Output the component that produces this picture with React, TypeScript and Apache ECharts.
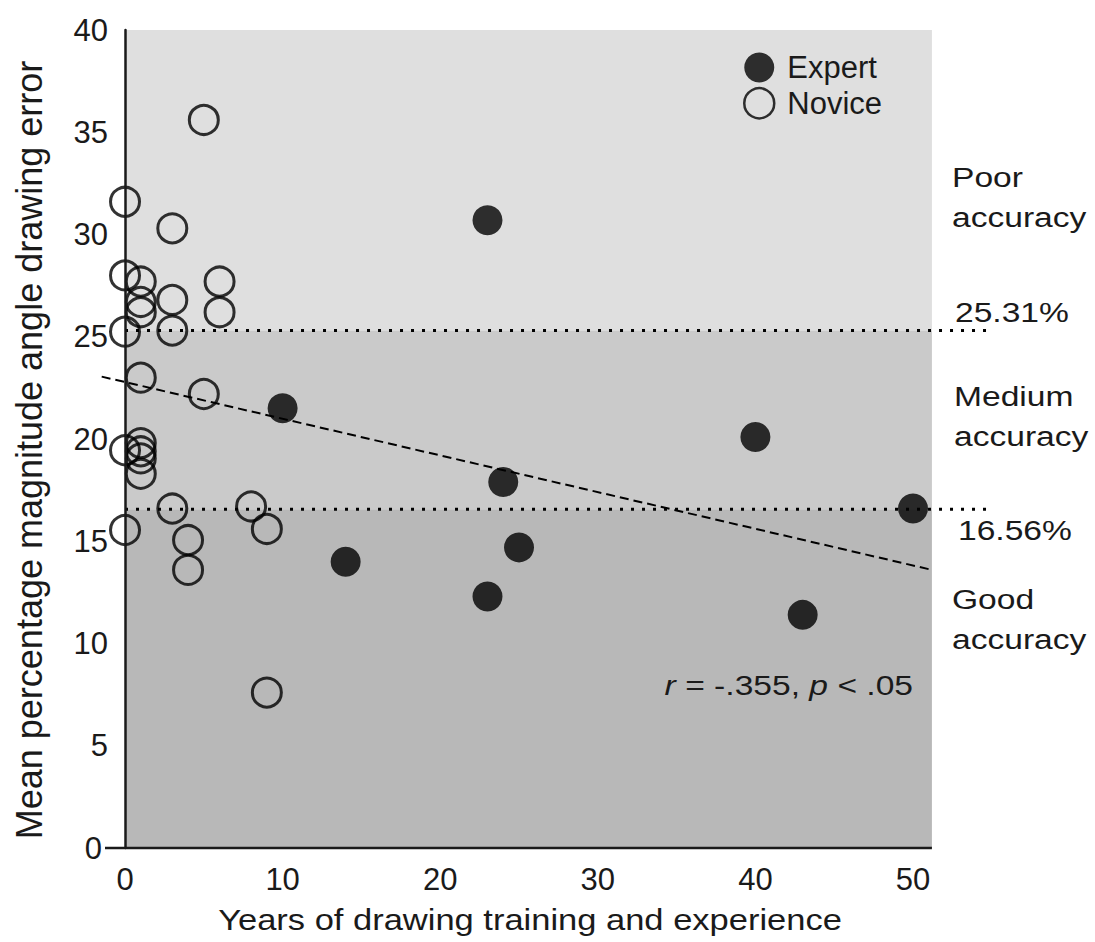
import React, { useEffect, useRef } from "react";
import * as echarts from "echarts";

// ---- Data ----
const X_MIN = -1.6;
const X_MAX = 55;
const X_TICK_VALUES = [0, 10, 20, 30, 40, 50];
const Y_MIN = 0;
const Y_MAX = 40;
const Y_INTERVAL = 5;

const EXPERT_X = [10, 14, 23, 23, 24, 25, 40, 43, 50];
const EXPERT_Y = [21.5, 14.0, 30.7, 12.3, 17.9, 14.7, 20.1, 11.4, 16.6];

const NOVICE_X = [5, 0, 3, 0, 1, 6, 1, 3, 1, 6, 3, 0, 1, 5, 1, 1, 1, 1, 0, 3, 0, 4, 4, 8, 9, 9];
const NOVICE_Y = [
  35.6, 31.6, 30.3, 28.0, 27.7, 27.7, 26.7, 26.8, 26.2, 26.2, 25.3, 25.25, 23.0, 22.2,
  19.8, 19.4, 19.05, 18.3, 19.45, 16.6, 15.55, 15.06, 13.6, 16.7, 15.6, 7.6,
];

const POOR_CUTOFF = 25.31;
const GOOD_CUTOFF = 16.56;
const CUTOFF_LINE_X = [0, 55];
const BAND_X = [0, 51.2];
const AXIS_LINE_X = [-1.27, 51.2];
const REG_LINE = [
  [-1.48, 23.05],
  [51.2, 13.6],
];
const STAT_TEXT = { r: "-.355", p: ".05" };

const FONT = '"Liberation Sans", Arial, sans-serif';
const INK = "#1a1a1a";
const WIDE = 1.2; // the reference's lettering is drawn horizontally stretched

export default function App() {
  const ref = useRef<HTMLDivElement>(null);

  useEffect(() => {
    if (!ref.current) return;
    const chart = echarts.init(ref.current, undefined, { renderer: "svg" });

    const expertData = EXPERT_X.map((x, i) => [x, EXPERT_Y[i]]);
    const noviceData = NOVICE_X.map((x, i) => [x, NOVICE_Y[i]]);

    const sideText = (text: string, x: number, y: number, extra: any = {}) => ({
      type: "text",
      x,
      y,
      scaleX: WIDE,
      z: 10,
      style: {
        text,
        fontSize: 28,
        lineHeight: 39,
        fontFamily: FONT,
        fill: INK,
        textAlign: "left",
        textVerticalAlign: "top",
        ...extra,
      },
    });

    const option: any = {
      animation: false,
      backgroundColor: "#ffffff",
      grid: { left: 99.8, width: 892, top: 30, height: 818 },
      xAxis: {
        type: "value",
        min: X_MIN,
        max: X_MAX,
        splitNumber: 5,
        axisLine: { show: false },
        axisTick: { show: false },
        splitLine: { show: false },
        axisLabel: {
          show: true,
          fontSize: 31,
          color: INK,
          fontFamily: FONT,
          margin: 16,
          showMinLabel: false,
          showMaxLabel: false,
          formatter: (v: number) => (X_TICK_VALUES.includes(Math.round(v * 1000) / 1000) ? String(v) : ""),
        },
      },
      yAxis: {
        type: "value",
        min: Y_MIN,
        max: Y_MAX,
        interval: Y_INTERVAL,
        z: 4,
        axisLine: { show: true, onZero: true, lineStyle: { color: INK, width: 2.5 } },
        axisTick: { show: false },
        splitLine: { show: false },
        axisLabel: {
          fontSize: 31,
          color: INK,
          fontFamily: FONT,
          margin: -8.2,
          formatter: (v: number) => (v === 0 ? "{z|0}" : String(v)),
          rich: { z: { fontSize: 31, color: INK, fontFamily: FONT, padding: [0, 6, 0, 0] } },
        },
      },
      legend: {
        orient: "vertical",
        left: 743,
        top: 52,
        padding: 0,
        itemWidth: 30,
        itemHeight: 30,
        itemGap: 4,
        textStyle: { fontSize: 31, color: INK, fontFamily: FONT, padding: [0, 0, 0, 8] },
        data: [
          { name: "Expert", icon: "circle" },
          { name: "Novice", icon: "circle", itemStyle: { color: "rgba(0,0,0,0)", borderColor: "#000", borderWidth: 2.5 } },
        ],
      },
      series: [
        {
          name: "bands",
          type: "line",
          data: [],
          z: 1,
          silent: true,
          markArea: {
            silent: true,
            data: [
              [
                { coord: [BAND_X[0], POOR_CUTOFF], itemStyle: { color: "#dfdfdf" } },
                { coord: [BAND_X[1], Y_MAX] },
              ],
              [
                { coord: [BAND_X[0], GOOD_CUTOFF], itemStyle: { color: "#cacaca" } },
                { coord: [BAND_X[1], POOR_CUTOFF] },
              ],
              [
                { coord: [BAND_X[0], Y_MIN], itemStyle: { color: "#b8b8b8" } },
                { coord: [BAND_X[1], GOOD_CUTOFF] },
              ],
            ],
          },
        },
        {
          name: "xAxisLine",
          type: "line",
          z: 4,
          clip: false,
          silent: true,
          symbol: "none",
          data: [
            [AXIS_LINE_X[0], Y_MIN],
            [AXIS_LINE_X[1], Y_MIN],
          ],
          lineStyle: { color: INK, width: 2.5 },
        },
        {
          name: "poorCut",
          type: "line",
          z: 2,
          clip: false,
          silent: true,
          symbol: "none",
          data: [
            [CUTOFF_LINE_X[0], POOR_CUTOFF],
            [CUTOFF_LINE_X[1], POOR_CUTOFF],
          ],
          lineStyle: { color: "#000", width: 3, type: [3, 8], cap: "butt" },
        },
        {
          name: "goodCut",
          type: "line",
          z: 2,
          clip: false,
          silent: true,
          symbol: "none",
          data: [
            [CUTOFF_LINE_X[0], GOOD_CUTOFF],
            [CUTOFF_LINE_X[1], GOOD_CUTOFF],
          ],
          lineStyle: { color: "#000", width: 3, type: [3, 8], cap: "butt" },
        },
        {
          name: "regression",
          type: "line",
          z: 2,
          clip: false,
          silent: true,
          symbol: "none",
          data: REG_LINE,
          lineStyle: { color: "#000", width: 2, type: [9, 5] },
        },
        {
          name: "Novice",
          type: "scatter",
          z: 3,
          clip: false,
          symbol: "circle",
          symbolSize: 29,
          data: noviceData,
          itemStyle: { color: "rgba(0,0,0,0)", borderColor: "#000", borderWidth: 3 },
        },
        {
          name: "Expert",
          type: "scatter",
          z: 3,
          clip: false,
          symbol: "circle",
          symbolSize: 30,
          data: expertData,
          itemStyle: { color: "#000" },
        },
      ],
      graphic: [
        {
          type: "text",
          x: 29,
          y: 450,
          rotation: Math.PI / 2,
          z: 10,
          style: {
            text: "Mean percentage magnitude angle drawing error",
            fontSize: 36,
            fontFamily: FONT,
            fill: INK,
            textAlign: "center",
            textVerticalAlign: "middle",
          },
        },
        {
          type: "text",
          x: 530,
          y: 920,
          scaleX: 1.15,
          z: 10,
          style: {
            text: "Years of drawing training and experience",
            fontSize: 30,
            fontFamily: FONT,
            fill: INK,
            textAlign: "center",
            textVerticalAlign: "middle",
          },
        },
        sideText("Poor\naccuracy", 952, 158.5),
        sideText(POOR_CUTOFF.toFixed(2) + "%", 955, 312, { textVerticalAlign: "middle" }),
        sideText("Medium\naccuracy", 954, 377.5),
        sideText(GOOD_CUTOFF.toFixed(2) + "%", 958, 530, { textVerticalAlign: "middle" }),
        sideText("Good\naccuracy", 952, 580.5),
        {
          type: "text",
          x: 913,
          y: 685,
          scaleX: WIDE,
          z: 10,
          style: {
            text: "{i|r} = " + STAT_TEXT.r + ", {i|p} < " + STAT_TEXT.p,
            fontSize: 28,
            fontFamily: FONT,
            fill: INK,
            textAlign: "right",
            textVerticalAlign: "middle",
            rich: { i: { fontStyle: "italic", fontSize: 28, fontFamily: FONT, fill: INK } },
          },
        },
      ],
    };

    chart.setOption(option);
    return () => chart.dispose();
  }, []);

  return <div ref={ref} style={{ position: "fixed", left: 0, top: 0, width: 1095, height: 942, background: "#fff" }} />;
}
